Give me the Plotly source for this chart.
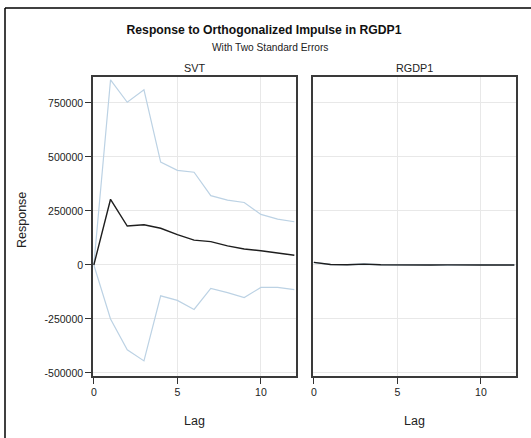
import plotly.graph_objects as go

lags = list(range(13))
svt_resp = [0, 304000, 180000, 186000, 170000, 140000, 115000, 108000, 88000, 74000, 66000, 55000, 45000]
svt_upper = [0, 857000, 753000, 811000, 476000, 438000, 429000, 321000, 300000, 289000, 234000, 212000, 200000]
svt_lower = [0, -250000, -393000, -444000, -143000, -164000, -206000, -109000, -128000, -151000, -104000, -104000, -114000]
rgdp_resp = [12000, 2000, 1000, 4000, 1000, 0, 1500, 0, 500, 1500, 0, 0, 0]
rgdp_upper = [12000, 3000, 2000, 5000, 2000, 1000, 2500, 1000, 1500, 2500, 1000, 1000, 1000]
rgdp_lower = [12000, 1000, 0, 3000, 0, -1000, 500, -1000, -500, 500, -1000, -1000, -1000]
ytick_vals = [-500000, -250000, 0, 250000, 500000, 750000]
ytick_text = ["-500000", "-250000", "0", "250000", "500000", "750000"]
xtick_vals = [0, 5, 10]
panel_titles = ["SVT", "RGDP1"]

band_col = "#bcd2e4"
resp_col = "#1e1e1e"
font = "Liberation Sans, Arial, sans-serif"

fig = go.Figure()
for xa, ya, lo, up, rs in [("x", "y", svt_lower, svt_upper, svt_resp),
                           ("x2", "y2", rgdp_lower, rgdp_upper, rgdp_resp)]:
    fig.add_trace(go.Scatter(x=lags, y=up, mode="lines", line=dict(color=band_col, width=1.2),
                             xaxis=xa, yaxis=ya, showlegend=False))
    fig.add_trace(go.Scatter(x=lags, y=lo, mode="lines", line=dict(color=band_col, width=1.2),
                             xaxis=xa, yaxis=ya, showlegend=False))
    fig.add_trace(go.Scatter(x=lags, y=rs, mode="lines", line=dict(color=resp_col, width=1.4),
                             xaxis=xa, yaxis=ya, showlegend=False))

W, H = 531, 438
L, R, T, B = 93, 15, 77, 62
pw = W - L - R
ph = H - T - B

def px_x(p):
    return (p - L) / pw

def px_y(p):
    return 1 - (p - T) / ph

xrange = [-0.05, 12.1]
yrange = [-514000, 870000]
tickfont = dict(size=10.5, color="#222222", family=font)
axis_common = dict(showline=True, linecolor="#3a3a3a", linewidth=1.6, mirror=True,
                   gridcolor="#e8e8e8", gridwidth=1, zeroline=False, tickfont=tickfont)

fig.update_layout(
    width=W, height=H,
    margin=dict(l=L, r=R, t=T, b=B),
    paper_bgcolor="white", plot_bgcolor="white",
    font=dict(family=font, color="#222222"),
    title=dict(text="<b>Response to Orthogonalized Impulse in RGDP1</b>",
               x=264 / W, xanchor="center", y=1 - 30 / H, yanchor="middle",
               font=dict(size=12.2, color="#111111", family=font)),
    xaxis=dict(domain=[0, px_x(296)], range=xrange, tickvals=xtick_vals, anchor="y",
               ticks="outside", ticklen=6, tickcolor="#333333", **axis_common),
    xaxis2=dict(domain=[px_x(313), 1], range=xrange, tickvals=xtick_vals, anchor="y2",
                ticks="outside", ticklen=6, tickcolor="#333333", **axis_common),
    yaxis=dict(range=yrange, tickvals=ytick_vals, ticktext=ytick_text, anchor="x",
               ticks="outside", ticklen=6, tickcolor="#333333", **axis_common),
    yaxis2=dict(range=yrange, tickvals=ytick_vals, showticklabels=False,
                anchor="x2", **axis_common),
)

ann = [
    dict(text="With Two Standard Errors", x=px_x(270), xref="paper", y=px_y(47), yref="paper",
         font=dict(size=10.2)),
    dict(text=panel_titles[0], x=(px_x(93) + px_x(296)) / 2, xref="paper", y=px_y(68), yref="paper",
         font=dict(size=10.8)),
    dict(text=panel_titles[1], x=(px_x(313) + 1) / 2, xref="paper", y=px_y(68), yref="paper",
         font=dict(size=10.8)),
    dict(text="Lag", x=(px_x(93) + px_x(296)) / 2, xref="paper", y=px_y(421), yref="paper",
         font=dict(size=12.5)),
    dict(text="Lag", x=(px_x(313) + 1) / 2, xref="paper", y=px_y(421), yref="paper",
         font=dict(size=12.5)),
    dict(text="Response", x=px_x(22), xref="paper", y=px_y(220), yref="paper",
         textangle=-90, font=dict(size=12.5)),
]
for a in ann:
    a.update(showarrow=False, xanchor="center", yanchor="middle")
    a["font"] = dict(family=font, color="#222222", **a["font"])
fig.update_layout(annotations=ann)

# outer frame: left edge and top edge (a 1.5px rule)
fig.add_shape(type="line", xref="paper", yref="paper",
              x0=px_x(5), x1=px_x(5), y0=px_y(438), y1=px_y(8),
              line=dict(color="#000000", width=1.5), layer="below")
fig.add_shape(type="line", xref="paper", yref="paper",
              x0=px_x(5), x1=px_x(531), y0=px_y(8), y1=px_y(8),
              line=dict(color="#000000", width=1.5), layer="below")

fig.write_html("out.html", config={"displayModeBar": False})
